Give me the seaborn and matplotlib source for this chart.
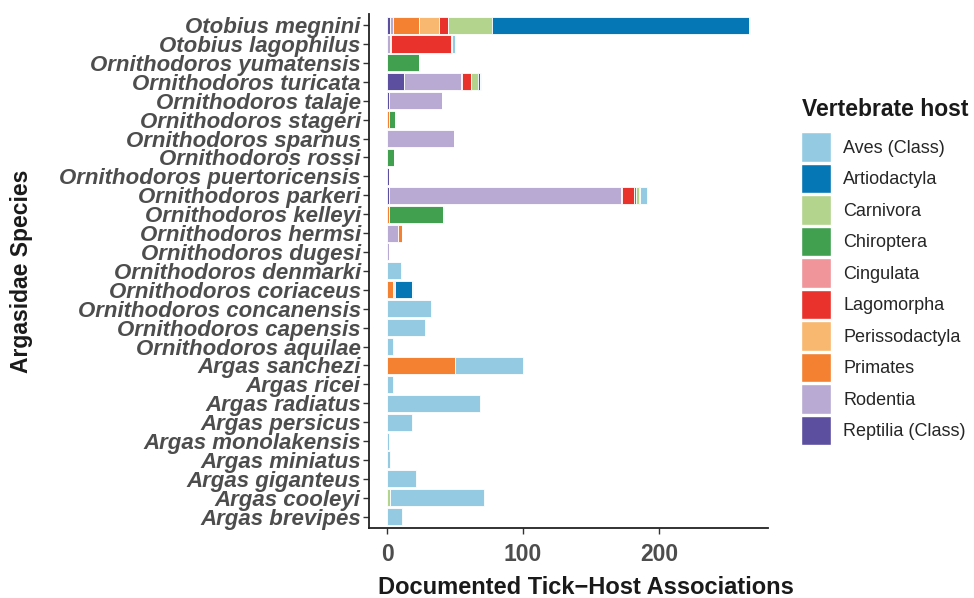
import pandas as pd
import matplotlib
matplotlib.use('Agg')
import matplotlib.pyplot as plt
from matplotlib.patches import Patch
import seaborn as sns

# species, top to bottom
species = ['Otobius megnini', 'Otobius lagophilus', 'Ornithodoros yumatensis',
           'Ornithodoros turicata', 'Ornithodoros talaje', 'Ornithodoros stageri',
           'Ornithodoros sparnus', 'Ornithodoros rossi', 'Ornithodoros puertoricensis',
           'Ornithodoros parkeri', 'Ornithodoros kelleyi', 'Ornithodoros hermsi',
           'Ornithodoros dugesi', 'Ornithodoros denmarki', 'Ornithodoros coriaceus',
           'Ornithodoros concanensis', 'Ornithodoros capensis', 'Ornithodoros aquilae',
           'Argas sanchezi', 'Argas ricei', 'Argas radiatus', 'Argas persicus',
           'Argas monolakensis', 'Argas miniatus', 'Argas giganteus', 'Argas cooleyi',
           'Argas brevipes']

hosts = ['Aves (Class)', 'Artiodactyla', 'Carnivora', 'Chiroptera', 'Cingulata',
         'Lagomorpha', 'Perissodactyla', 'Primates', 'Rodentia', 'Reptilia (Class)']

host_colors = ['#94CBE2', '#0477B4', '#B2D48C', '#41A050', '#F0959A',
               '#E9322B', '#F9B86F', '#F38131', '#B8AAD2', '#5C4FA0']

# counts per host, same order as species
aves =           [1, 2, 0, 1, 0, 0, 0, 0, 0, 5, 1, 0, 0, 10, 1, 32, 28, 4, 50, 4, 68, 18, 1, 2, 21, 69, 11]
artiodactyla =   [189, 0, 0, 1, 0, 0, 0, 0, 0, 1, 0, 0, 0, 0, 12, 0, 0, 0, 0, 0, 0, 0, 0, 0, 0, 0, 0]
carnivora =      [32, 1, 0, 5, 0, 0, 0, 0, 0, 2, 0, 0, 0, 0, 0, 0, 0, 0, 0, 0, 0, 0, 0, 0, 0, 2, 0]
chiroptera =     [0, 0, 23, 0, 0, 5, 0, 5, 0, 1, 40, 0, 0, 0, 0, 0, 0, 0, 0, 0, 0, 0, 0, 0, 0, 0, 0]
cingulata =      [0] * 27
lagomorpha =     [7, 44, 0, 7, 0, 0, 0, 0, 0, 9, 0, 0, 0, 0, 1, 0, 0, 0, 0, 0, 0, 0, 0, 0, 0, 0, 0]
perissodactyla = [15, 0, 0, 0, 0, 0, 0, 0, 0, 0, 0, 0, 0, 0, 1, 0, 0, 0, 0, 0, 0, 0, 0, 0, 0, 0, 0]
primates =       [19, 1, 0, 1, 0, 1, 0, 0, 0, 1, 1, 3, 0, 0, 4, 0, 0, 0, 50, 0, 0, 0, 0, 0, 0, 0, 0]
rodentia =       [2, 2, 0, 42, 39, 0, 49, 0, 0, 171, 0, 8, 1, 0, 0, 0, 0, 0, 0, 0, 0, 0, 0, 0, 0, 0, 0]
reptilia =       [2, 0, 0, 12, 1, 0, 0, 0, 1, 1, 0, 0, 0, 0, 0, 0, 0, 0, 0, 0, 0, 0, 0, 0, 0, 0, 0]

counts = [aves, artiodactyla, carnivora, chiroptera, cingulata,
          lagomorpha, perissodactyla, primates, rodentia, reptilia]

rows = []
for h, vals in zip(hosts, counts):
    for s, v in zip(species, vals):
        if v > 0:
            rows.append({'Species': s, 'Host': h, 'n': v})
df = pd.DataFrame(rows)
df['Species'] = pd.Categorical(df['Species'], categories=species, ordered=True)

sns.set_style('white')
plt.rcParams['font.family'] = ['Liberation Sans', 'DejaVu Sans']

fig = plt.figure(figsize=(9.74, 5.98), dpi=100)
ax = fig.add_axes([0.379, 0.117, 0.4095, 0.86])

sns.histplot(data=df, y='Species', weights='n', hue='Host', hue_order=hosts,
             palette=host_colors, multiple='stack', discrete=True, shrink=0.9,
             alpha=1, edgecolor='white', linewidth=0.6, legend=False, ax=ax)

ax.set_xlim(-13.35, 280.35)
ax.set_ylim(len(species) - 0.4, -0.6)
ax.set_yticks(range(len(species)))
ax.set_yticklabels(species, fontsize=16, fontweight='bold', fontstyle='italic',
                   color='#4D4D4D')
ax.set_xticks([0, 100, 200])
ax.set_xticklabels(['0', '100', '200'], fontsize=16.5, fontweight='bold', color='#4D4D4D')
ax.tick_params(axis='both', length=4, width=1, color='#333333', left=True, bottom=True)
ax.tick_params(axis='y', pad=2)
ax.tick_params(axis='x', pad=7)

sns.despine(ax=ax)
for side in ['left', 'bottom']:
    ax.spines[side].set_color('#222222')
    ax.spines[side].set_linewidth(1.3)

ax.set_xlabel('Documented Tick\u2212Host Associations', fontsize=17, fontweight='bold',
              color='#1a1a1a')
ax.xaxis.set_label_coords(0.544, -0.093)
ax.set_ylabel('Argasidae Species', fontsize=16.5, fontweight='bold', color='#1a1a1a')
ax.yaxis.set_label_coords(-0.842, 0.5)

# legend: title placed separately so the gap above the keys matches
fig.text(802 / 974, 1 - 109 / 598, 'Vertebrate host', fontsize=16.5, fontweight='bold',
         color='#1a1a1a', ha='left', va='center')
handles = [Patch(facecolor=c, edgecolor='white', linewidth=1) for c in host_colors]
leg = fig.legend(handles, hosts, loc='upper left', bbox_to_anchor=(801 / 974, 1 - 132 / 598),
                 frameon=False, fontsize=13,
                 handlelength=1.645, handleheight=2.154, labelspacing=0.1,
                 handletextpad=0.7, borderaxespad=0, borderpad=0)

fig.savefig('out.png', dpi=100)
